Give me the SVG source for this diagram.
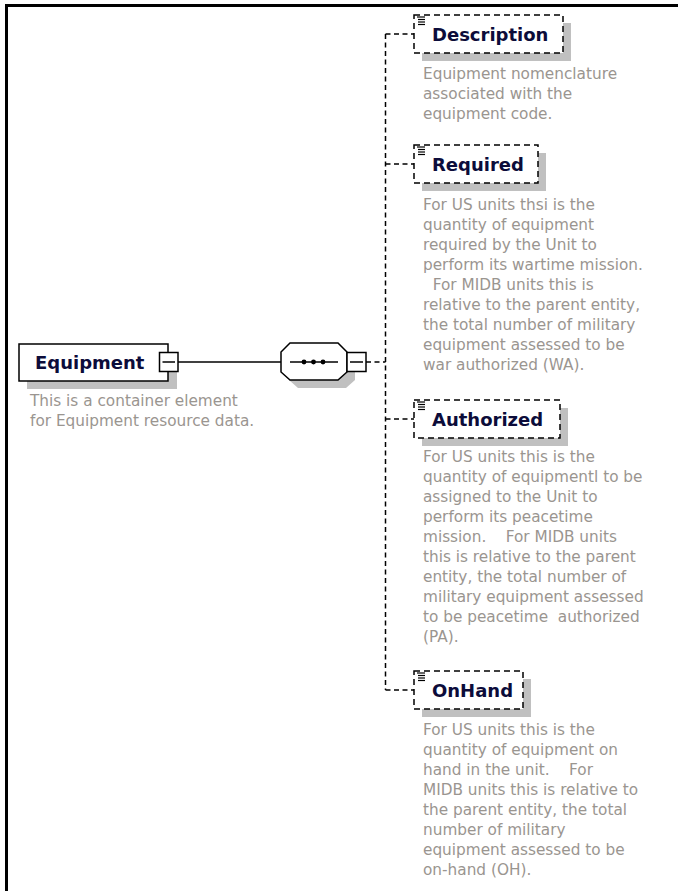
<svg xmlns="http://www.w3.org/2000/svg" width="678" height="891" viewBox="0 0 678 891">
<style>
.t{font-family:"DejaVu Sans","Liberation Sans",sans-serif;font-weight:bold;font-size:18px;fill:#0c0c3a}
.d{font-family:"DejaVu Sans","Liberation Sans",sans-serif;font-size:15.3px;fill:#9a9590}
.sh{fill:#c0c0c0}
.box{fill:#fff;stroke:#000;stroke-width:1.5}
.dbox{fill:#fff;stroke:#000;stroke-width:1.5;stroke-dasharray:6 4}
.ln{fill:none;stroke:#000;stroke-width:1.5}
.dl{fill:none;stroke:#000;stroke-width:1.5;stroke-dasharray:5 3.5}
.ic{stroke:#000;stroke-width:1.2}
</style>
<rect x="5" y="4" width="673" height="3" fill="#000"/>
<rect x="5" y="4" width="3" height="887" fill="#000"/>

<g id="connectors">
<line class="ln" x1="178" y1="362" x2="281" y2="362"/>
<line class="dl" x1="366" y1="362" x2="385.5" y2="362"/>
<line class="dl" x1="385.5" y1="34" x2="385.5" y2="690"/>
<line class="dl" x1="385.5" y1="34" x2="414" y2="34"/>
<line class="dl" x1="385.5" y1="164" x2="414" y2="164"/>
<line class="dl" x1="385.5" y1="419" x2="414" y2="419"/>
<line class="dl" x1="385.5" y1="690" x2="414" y2="690"/>
</g>

<g id="Equipment">
<rect class="sh" x="27" y="352" width="150" height="37"/>
<rect class="box" x="19" y="344" width="149" height="37"/>
<text class="t" x="35" y="368.5">Equipment</text>
<rect class="box" x="159.5" y="352.5" width="18.5" height="19"/>
<line class="ln" x1="162.5" y1="362" x2="175" y2="362"/>
<text class="d" x="30" y="406">This is a container element</text>
<text class="d" x="30" y="426">for Equipment resource data.</text>
</g>

<g id="sequence">
<polygon class="sh" points="298,351 346,351 355,360 355,380 346,388 298,388 289,380 289,360"/>
<polygon class="box" points="290,343 338,343 347,352 347,372 338,380 290,380 281,372 281,352"/>
<line class="ln" x1="290" y1="362" x2="338" y2="362"/>
<circle cx="304" cy="362" r="2.4"/>
<circle cx="313.5" cy="362" r="2.4"/>
<circle cx="323" cy="362" r="2.4"/>
<rect class="box" x="347" y="352.5" width="19" height="19"/>
<line class="ln" x1="350" y1="362" x2="363" y2="362"/>
</g>

<g id="Description">
<rect class="sh" x="422" y="23" width="149" height="38"/>
<rect class="dbox" x="414" y="15" width="149" height="38"/>
<g class="ic"><line x1="417" y1="17" x2="425" y2="17"/><line x1="418" y1="19.5" x2="425" y2="19.5"/><line x1="418" y1="22" x2="425" y2="22"/><line x1="418" y1="24.5" x2="425" y2="24.5"/></g>
<text class="t" x="432" y="40.5">Description</text>
<text class="d" x="423" y="79">Equipment nomenclature</text>
<text class="d" x="423" y="99">associated with the</text>
<text class="d" x="423" y="119">equipment code.</text>
</g>

<g id="Required">
<rect class="sh" x="422" y="153" width="124" height="38"/>
<rect class="dbox" x="414" y="145" width="124" height="38"/>
<g class="ic"><line x1="417" y1="147" x2="425" y2="147"/><line x1="418" y1="149.5" x2="425" y2="149.5"/><line x1="418" y1="152" x2="425" y2="152"/><line x1="418" y1="154.5" x2="425" y2="154.5"/></g>
<text class="t" x="432" y="170.5">Required</text>
<text class="d" x="423" y="210">For US units thsi is the</text>
<text class="d" x="423" y="230">quantity of equipment</text>
<text class="d" x="423" y="250">required by the Unit to</text>
<text class="d" x="423" y="270">perform its wartime mission.</text>
<text class="d" x="423" y="290" xml:space="preserve">  For MIDB units this is</text>
<text class="d" x="423" y="310">relative to the parent entity,</text>
<text class="d" x="423" y="330">the total number of military</text>
<text class="d" x="423" y="350">equipment assessed to be</text>
<text class="d" x="423" y="370">war authorized (WA).</text>
</g>

<g id="Authorized">
<rect class="sh" x="422" y="408" width="146" height="38"/>
<rect class="dbox" x="414" y="400" width="146" height="38"/>
<g class="ic"><line x1="417" y1="402" x2="425" y2="402"/><line x1="418" y1="404.5" x2="425" y2="404.5"/><line x1="418" y1="407" x2="425" y2="407"/><line x1="418" y1="409.5" x2="425" y2="409.5"/></g>
<text class="t" x="432" y="425.5">Authorized</text>
<text class="d" x="423" y="462">For US units this is the</text>
<text class="d" x="423" y="482">quantity of equipmentl to be</text>
<text class="d" x="423" y="502">assigned to the Unit to</text>
<text class="d" x="423" y="522">perform its peacetime</text>
<text class="d" x="423" y="542" xml:space="preserve">mission.    For MIDB units</text>
<text class="d" x="423" y="562">this is relative to the parent</text>
<text class="d" x="423" y="582">entity, the total number of</text>
<text class="d" x="423" y="602">military equipment assessed</text>
<text class="d" x="423" y="622" xml:space="preserve">to be peacetime  authorized</text>
<text class="d" x="423" y="642">(PA).</text>
</g>

<g id="OnHand">
<rect class="sh" x="422" y="679" width="109" height="38"/>
<rect class="dbox" x="414" y="671" width="109" height="38"/>
<g class="ic"><line x1="417" y1="673" x2="425" y2="673"/><line x1="418" y1="675.5" x2="425" y2="675.5"/><line x1="418" y1="678" x2="425" y2="678"/><line x1="418" y1="680.5" x2="425" y2="680.5"/></g>
<text class="t" x="432" y="696.5">OnHand</text>
<text class="d" x="423" y="735">For US units this is the</text>
<text class="d" x="423" y="755">quantity of equipment on</text>
<text class="d" x="423" y="775" xml:space="preserve">hand in the unit.    For</text>
<text class="d" x="423" y="795">MIDB units this is relative to</text>
<text class="d" x="423" y="815">the parent entity, the total</text>
<text class="d" x="423" y="835">number of military</text>
<text class="d" x="423" y="855">equipment assessed to be</text>
<text class="d" x="423" y="875">on-hand (OH).</text>
</g>
</svg>
